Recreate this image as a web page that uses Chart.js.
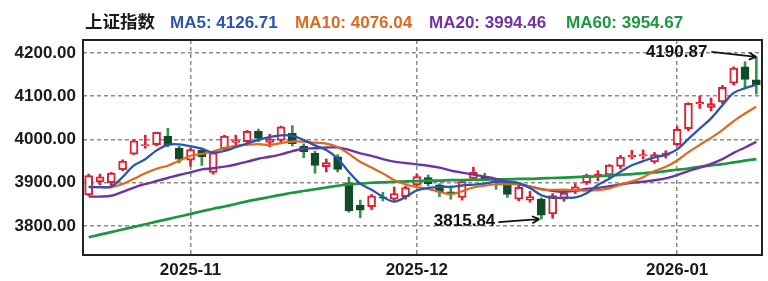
<!DOCTYPE html>
<html>
<head>
<meta charset="utf-8">
<script src="https://cdn.jsdelivr.net/npm/chart.js@4.4.1/dist/chart.umd.min.js"></script>
<style>
  html, body { margin: 0; padding: 0; background: #fff; }
  #wrap { width: 768px; height: 281px; }
</style>
</head>
<body>
<div id="wrap"><canvas id="kline" width="768" height="281"></canvas></div>
<script>
// trading days shown on the chart
var dates = [
  '2025-10-21','2025-10-22','2025-10-23','2025-10-24','2025-10-27','2025-10-28','2025-10-29','2025-10-30','2025-10-31',
  '2025-11-03','2025-11-04','2025-11-05','2025-11-06','2025-11-07','2025-11-10','2025-11-11','2025-11-12','2025-11-13','2025-11-14',
  '2025-11-17','2025-11-18','2025-11-19','2025-11-20','2025-11-21','2025-11-24','2025-11-25','2025-11-26','2025-11-27','2025-11-28',
  '2025-12-01','2025-12-02','2025-12-03','2025-12-04','2025-12-05','2025-12-08','2025-12-09','2025-12-10','2025-12-11','2025-12-12',
  '2025-12-15','2025-12-16','2025-12-17','2025-12-18','2025-12-19','2025-12-22','2025-12-23','2025-12-24','2025-12-25','2025-12-26',
  '2025-12-29','2025-12-30','2025-12-31',
  '2026-01-05','2026-01-06','2026-01-07','2026-01-08','2026-01-09','2026-01-12','2026-01-13','2026-01-14'
];
var opens = [3872,3902,3900,3930,3966,3985,3988,4008,3980,3952, 3975,3924,3978,3993,3995,4019,3993,3998,4014,3985,
             3968,3937,3960,3900,3848,3845,3867,3862,3868,3895, 3912,3895,3879,3866,3910,3915,3905,3902,3862,3860,
             3862,3828,3862,3880,3900,3914,3918,3938,3960,3962, 3948,3963,3988,4025,4082,4074,4087,4130,4168,4138];
var highs = [3920,3920,3924,3953,4000,4010,4017,4026,3984,3980, 3978,3972,4010,4010,4021,4024,4012,4031,4032,3990,
             3973,3955,3965,3913,3860,3873,3878,3890,3892,3920, 3918,3898,3889,3905,3936,3922,3910,3906,3895,3880,
             3865,3875,3882,3898,3920,3928,3942,3963,3975,3976, 3970,3974,4030,4085,4100,4096,4125,4168,4180,4190.87];
var lows = [3870,3895,3888,3928,3965,3980,3985,3983,3946,3938, 3940,3920,3975,3985,3990,3995,3983,3995,3985,3958,
            3922,3925,3925,3832,3819,3838,3858,3856,3862,3890, 3893,3868,3862,3860,3905,3905,3885,3866,3858,3855,
            3815.84,3818,3857,3875,3896,3905,3912,3932,3955,3955, 3945,3957,3985,4020,4072,4066,4083,4126,4120,4105];
var closes = [3916.33,3913.76,3922.41,3950.31,3996.94,3988.22,4016.33,3986.90,3954.79,3976.52,
              3960.19,3969.25,4007.76,3997.56,4018.60,4002.76,4000.14,4029.50,3990.49,3972.03,
              3939.81,3946.74,3931.05,3834.89,3836.77,3870.02,3864.18,3875.26,3888.60,3914.01,
              3897.71,3878.00,3875.79,3902.81,3924.08,3909.52,3900.50,3873.32,3889.35,3867.92,
              3824.81,3870.28,3876.37,3890.45,3917.36,3919.98,3940.95,3959.62,3963.68,3965.12,
              3965.28,3968.84,4023.42,4083.67,4085.77,4082.98,4120.43,4165.29,4138.76,4126.09];

// moving averages as drawn
var ma5 = [3889.7,3889.9,3891.2,3913.3,3940.0,3954.3,3974.8,3987.7,3988.6,3984.6, 3978.9,3969.5,3973.7,3982.3,3990.7,3999.2,4005.4,4009.7,4008.3,3999.0,
           3986.4,3975.7,3956.0,3924.9,3897.9,3883.9,3867.4,3856.2,3867.0,3882.4, 3888.0,3890.7,3890.8,3893.7,3895.7,3898.0,3902.5,3902.0,3899.4,3888.1,
           3871.2,3865.1,3865.7,3866.0,3875.9,3894.9,3909.0,3925.7,3940.3,3949.9, 3958.9,3964.5,3977.3,4001.3,4025.4,4048.9,4079.3,4107.6,4118.6,4126.71];
var ma10 = [3891,3890,3890,3897,3909,3922.0,3932.4,3939.5,3951.0,3962.3, 3966.6,3972.2,3980.7,3985.5,3987.7,3989.1,3987.5,3991.7,3995.3,3994.9,
            3992.8,3990.6,3982.9,3966.6,3948.5,3935.2,3921.6,3906.1,3896.0,3890.2, 3886.0,3879.1,3873.5,3880.4,3889.1,3893.0,3896.6,3896.4,3896.6,3891.9,
            3884.6,3883.8,3883.9,3882.7,3882.0,3883.1,3887.1,3895.7,3903.2,3912.9, 3926.9,3936.8,3951.5,3970.8,3987.7,4003.9,4021.9,4042.5,4060.0,4076.04];
var ma20 = [3868,3868,3870,3879,3889,3897,3904,3911,3918,3924, 3930.8,3933.5,3937.2,3942.3,3948.7,3955.6,3960.0,3965.6,3973.2,3978.6,
            3979.7,3981.4,3981.8,3976.1,3968.1,3962.2,3954.6,3948.9,3945.7,3942.6, 3939.4,3934.9,3928.2,3923.5,3918.8,3914.1,3909.1,3901.3,3896.3,3891.1,
            3885.3,3881.5,3878.7,3881.6,3885.6,3888.1,3891.9,3896.1,3899.9,3902.4, 3905.8,3910.3,3917.7,3926.8,3934.9,3943.5,3954.5,3969.1,3981.6,3994.46];
var ma60 = [3774,3780,3786,3792,3798,3804,3810,3816,3822,3828, 3834,3840,3845,3851,3857,3862,3867,3872,3877,3881,
            3885,3889,3893,3896,3898,3900,3901,3902,3903,3904, 3905,3905,3906,3906,3907,3907,3908,3908,3909,3909,
            3910,3911,3912,3913,3914,3915,3917,3918,3920,3922, 3924,3927,3930,3933,3937,3940,3943,3947,3951,3954.67];

var indexName = '上证指数';
var maNames = ['MA5', 'MA10', 'MA20', 'MA60'];
var yTicks = [3800, 3900, 4000, 4100, 4200];
var monthStarts = [9, 29, 52]; // first trading day of each month

var upColor = '#dc2233';
var downColor = '#124a2b';
var downWick = '#2c9a45';
var maColors = ['#2a55b0', '#dd6a1c', '#7033a3', '#1e9640'];
var tickFont = { family: '"Liberation Sans", Arial, sans-serif', size: 17, weight: 'bold' };

var bodyData = [], wickData = [], bodyFill = [], bodyEdge = [], wickColor = [];
for (var i = 0; i < dates.length; i++) {
  bodyData.push([opens[i], closes[i]]);
  wickData.push([lows[i], highs[i]]);
  var up = closes[i] >= opens[i];
  bodyFill.push(up ? '#ffffff' : downColor);
  bodyEdge.push(up ? upColor : downColor);
  wickColor.push(up ? upColor : downWick);
}

function maSet(k, arr, w) {
  return { type: 'line', label: maNames[k], data: arr, borderColor: maColors[k], borderWidth: w,
           pointRadius: 0, tension: 0.35, fill: false, order: 0 };
}

// black frame round the plot
var frame = {
  id: 'frame',
  afterDraw: function(c) {
    var a = c.chartArea, ctx = c.ctx;
    ctx.save();
    ctx.strokeStyle = '#222';
    ctx.lineWidth = 2;
    ctx.strokeRect(a.left, a.top, a.right - a.left, a.bottom - a.top);
    ctx.restore();
  }
};

// title row: index name and the latest MA values
var header = {
  id: 'header',
  afterDraw: function(c) {
    var ctx = c.ctx;
    var xs = [170, 295, 429, 566];
    ctx.save();
    ctx.textBaseline = 'alphabetic';
    ctx.font = 'bold 17.5px "Noto Sans CJK SC", sans-serif';
    ctx.fillStyle = '#1a1a1a';
    ctx.fillText(indexName, 85, 28);
    ctx.font = 'bold 17px "Liberation Sans", Arial, sans-serif';
    var lists = [ma5, ma10, ma20, ma60];
    for (var k = 0; k < 4; k++) {
      var last = lists[k][lists[k].length - 1];
      ctx.fillStyle = maColors[k];
      ctx.fillText(maNames[k] + ': ' + last.toFixed(2), xs[k], 28);
    }
    ctx.restore();
  }
};

// labels with arrows at the highest high and the lowest low
function arrow(ctx, x0, y0, x1, y1) {
  var ang = Math.atan2(y1 - y0, x1 - x0);
  ctx.beginPath();
  ctx.moveTo(x0, y0);
  ctx.lineTo(x1, y1);
  ctx.moveTo(x1, y1);
  ctx.lineTo(x1 - 8 * Math.cos(ang - 0.45), y1 - 8 * Math.sin(ang - 0.45));
  ctx.moveTo(x1, y1);
  ctx.lineTo(x1 - 8 * Math.cos(ang + 0.45), y1 - 8 * Math.sin(ang + 0.45));
  ctx.stroke();
}
var marks = {
  id: 'marks',
  afterDatasetsDraw: function(c) {
    var ctx = c.ctx, xs = c.scales.x, ys = c.scales.y;
    var hi = 0, lo = 0;
    for (var i = 1; i < highs.length; i++) {
      if (highs[i] > highs[hi]) hi = i;
      if (lows[i] < lows[lo]) lo = i;
    }
    ctx.save();
    ctx.strokeStyle = '#111';
    ctx.fillStyle = '#111';
    ctx.lineWidth = 1.8;
    ctx.font = 'bold 17px "Liberation Sans", Arial, sans-serif';
    ctx.textAlign = 'right';
    ctx.textBaseline = 'middle';

    var hx = xs.getPixelForValue(hi), hy = ys.getPixelForValue(highs[hi]);
    ctx.fillText(highs[hi].toFixed(2), hx - 49, hy - 5);
    arrow(ctx, hx - 45, hy - 5, hx, hy);

    var lx = xs.getPixelForValue(lo) - 2, ly = ys.getPixelForValue(lows[lo]);
    ctx.fillText(lows[lo].toFixed(2), lx - 44, ly + 2);
    arrow(ctx, lx - 41, ly + 3, lx, ly);
    ctx.restore();
  }
};

var chart = new Chart(document.getElementById('kline'), {
  type: 'bar',
  data: {
    labels: dates,
    datasets: [
      maSet(0, ma5, 2.3),
      maSet(1, ma10, 2.2),
      maSet(2, ma20, 2.4),
      maSet(3, ma60, 2.7),
      { label: 'body', data: bodyData, backgroundColor: bodyFill, borderColor: bodyEdge, borderWidth: 2,
        borderSkipped: false, barThickness: 8, grouped: false, order: 1 },
      { label: 'wick', data: wickData, backgroundColor: wickColor, borderWidth: 0,
        barThickness: 2, grouped: false, order: 2 }
    ]
  },
  options: {
    responsive: false,
    animation: false,
    layout: { padding: { top: 40, right: 6, left: 0, bottom: 0 } },
    plugins: { legend: { display: false }, tooltip: { enabled: false } },
    scales: {
      x: {
        offset: true,
        grid: { offset: false, color: '#8c8c8c', lineWidth: 1.5, drawTicks: false },
        border: { display: false, dash: [4, 3] },
        ticks: {
          font: tickFont, color: '#1a1a1a', padding: 5, maxRotation: 0, autoSkip: false,
          callback: function(v) { return dates[v].slice(0, 7); }
        },
        afterBuildTicks: function(axis) { axis.ticks = monthStarts.map(function(i) { return { value: i }; }); },
        afterFit: function(axis) { axis.height = 26; }
      },
      y: {
        min: 3733,
        max: 4230,
        grid: { color: '#8c8c8c', lineWidth: 1.5, drawTicks: false },
        border: { display: false, dash: [4, 3] },
        ticks: {
          font: tickFont, color: '#1a1a1a', padding: 7,
          callback: function(v) { return v.toFixed(2); }
        },
        afterBuildTicks: function(axis) { axis.ticks = yTicks.map(function(v) { return { value: v }; }); },
        afterFit: function(axis) { axis.width = 83; }
      }
    }
  },
  plugins: [frame, header, marks]
});
</script>
</body>
</html>
